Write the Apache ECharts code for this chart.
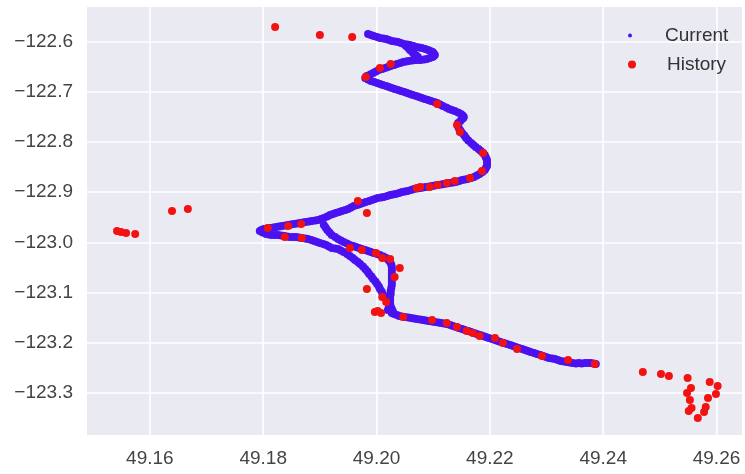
<!DOCTYPE html>
<html>
<head>
<meta charset="utf-8">
<script src="https://cdn.jsdelivr.net/npm/echarts@6/dist/echarts.min.js"></script>
<style>
html,body{margin:0;padding:0;background:#ffffff;}
#chart{width:745px;height:474px;}
</style>
</head>
<body>
<div id="chart"></div>
<script>
// Tick labels
var xTicks = [49.16, 49.18, 49.20, 49.22, 49.24, 49.26];
var yTicks = [-122.6, -122.7, -122.8, -122.9, -123.0, -123.1, -123.2, -123.3];
var seriesNames = ['Current', 'History'];

// "Current" track points [x, y], read along the dense band
var currentPoints = [
  // top strand
  [49.1985,-122.5852],[49.1990,-122.5872],[49.1995,-122.5892],[49.2001,-122.5912],[49.2006,-122.5932],
  [49.2012,-122.5941],[49.2017,-122.5951],[49.2022,-122.5971],[49.2027,-122.5991],[49.2033,-122.6001],
  [49.2038,-122.6011],[49.2043,-122.6031],[49.2048,-122.6051],[49.2054,-122.6061],[49.2059,-122.6071],
  [49.2065,-122.6091],[49.2070,-122.6111],[49.2075,-122.6121],[49.2080,-122.6131],[49.2086,-122.6150],
  [49.2091,-122.6170],[49.2095,-122.6190],[49.2099,-122.6210],[49.2101,-122.6240],[49.2103,-122.6270],
  [49.2101,-122.6290],
  // inner loop
  [49.2052,-122.6091],[49.2056,-122.6131],[49.2059,-122.6170],[49.2063,-122.6210],[49.2066,-122.6250],
  [49.2070,-122.6280],[49.2073,-122.6310],
  // return strand
  [49.2099,-122.6310],[49.2094,-122.6330],[49.2089,-122.6350],[49.2084,-122.6360],[49.2078,-122.6370],
  [49.2073,-122.6370],[49.2068,-122.6370],[49.2063,-122.6380],[49.2057,-122.6389],[49.2052,-122.6399],
  [49.2047,-122.6409],[49.2042,-122.6429],[49.2036,-122.6449],[49.2031,-122.6469],[49.2025,-122.6489],
  [49.2020,-122.6509],[49.2015,-122.6529],[49.2010,-122.6549],[49.2004,-122.6569],[49.1999,-122.6599],
  [49.1994,-122.6628],[49.1989,-122.6658],[49.1983,-122.6688],[49.1982,-122.6708],
  // second descending strand
  [49.1980,-122.6728],[49.1985,-122.6758],[49.1990,-122.6787],[49.1996,-122.6807],[49.2001,-122.6827],
  [49.2006,-122.6847],[49.2011,-122.6867],[49.2017,-122.6887],[49.2022,-122.6907],[49.2027,-122.6927],
  [49.2032,-122.6947],[49.2038,-122.6967],[49.2043,-122.6987],[49.2049,-122.7007],[49.2054,-122.7026],
  [49.2059,-122.7046],[49.2064,-122.7066],[49.2070,-122.7086],[49.2075,-122.7106],[49.2080,-122.7126],
  [49.2085,-122.7146],[49.2091,-122.7166],[49.2096,-122.7186],[49.2102,-122.7206],[49.2107,-122.7225],
  [49.2112,-122.7255],[49.2117,-122.7285],[49.2123,-122.7315],[49.2128,-122.7345],[49.2133,-122.7365],
  [49.2138,-122.7385],[49.2144,-122.7415],[49.2149,-122.7444],[49.2152,-122.7474],[49.2154,-122.7504],
  // jog and right bend
  [49.2153,-122.7524],[49.2151,-122.7544],[49.2148,-122.7584],[49.2144,-122.7623],[49.2144,-122.7673],
  [49.2145,-122.7723],[49.2148,-122.7772],[49.2151,-122.7822],[49.2155,-122.7872],[49.2158,-122.7922],
  [49.2162,-122.7972],[49.2167,-122.8022],[49.2171,-122.8062],[49.2175,-122.8101],[49.2180,-122.8141],
  [49.2184,-122.8181],[49.2188,-122.8221],[49.2191,-122.8260],[49.2193,-122.8310],[49.2195,-122.8360],
  [49.2195,-122.8420],[49.2195,-122.8479],[49.2193,-122.8519],
  // long strand back to the left
  [49.2191,-122.8559],[49.2187,-122.8599],[49.2182,-122.8639],[49.2177,-122.8668],[49.2172,-122.8698],
  [49.2167,-122.8718],[49.2161,-122.8738],[49.2156,-122.8748],[49.2151,-122.8758],[49.2146,-122.8778],
  [49.2140,-122.8798],[49.2135,-122.8808],[49.2129,-122.8818],[49.2124,-122.8828],[49.2119,-122.8838],
  [49.2114,-122.8848],[49.2108,-122.8858],[49.2103,-122.8867],[49.2098,-122.8877],[49.2093,-122.8887],
  [49.2087,-122.8897],[49.2082,-122.8907],[49.2077,-122.8917],[49.2072,-122.8927],[49.2066,-122.8937],
  [49.2061,-122.8957],[49.2055,-122.8977],[49.2050,-122.8987],[49.2045,-122.8997],[49.2040,-122.9017],
  [49.2034,-122.9037],[49.2029,-122.9047],[49.2024,-122.9057],[49.2019,-122.9076],[49.2013,-122.9096],
  [49.2008,-122.9106],[49.2002,-122.9116],[49.1997,-122.9136],[49.1992,-122.9156],[49.1987,-122.9176],
  [49.1981,-122.9196],[49.1976,-122.9216],[49.1971,-122.9236],[49.1966,-122.9255],[49.1960,-122.9275],
  [49.1955,-122.9305],[49.1950,-122.9335],[49.1945,-122.9355],[49.1939,-122.9375],[49.1934,-122.9395],
  [49.1928,-122.9415],[49.1923,-122.9435],[49.1918,-122.9455],[49.1913,-122.9485],[49.1907,-122.9514],
  [49.1902,-122.9534],[49.1897,-122.9554],[49.1892,-122.9564],[49.1886,-122.9574],[49.1881,-122.9584],
  [49.1875,-122.9594],[49.1870,-122.9604],[49.1865,-122.9614],[49.1860,-122.9624],[49.1854,-122.9634],
  [49.1849,-122.9644],[49.1844,-122.9654],[49.1839,-122.9664],[49.1833,-122.9674],[49.1828,-122.9683],
  [49.1823,-122.9693],[49.1818,-122.9703],[49.1812,-122.9713],[49.1807,-122.9723],[49.1801,-122.9733],
  [49.1797,-122.9753],[49.1794,-122.9773],
  // lower outer curve
  [49.1799,-122.9803],[49.1805,-122.9833],[49.1810,-122.9843],[49.1815,-122.9853],[49.1821,-122.9853],
  [49.1826,-122.9853],[49.1832,-122.9863],[49.1837,-122.9873],[49.1842,-122.9883],[49.1847,-122.9893],
  [49.1853,-122.9893],[49.1858,-122.9893],[49.1863,-122.9903],[49.1868,-122.9912],[49.1874,-122.9922],
  [49.1879,-122.9932],[49.1885,-122.9952],[49.1890,-122.9972],[49.1895,-122.9992],[49.1900,-123.0012],
  [49.1906,-123.0032],[49.1911,-123.0052],[49.1916,-123.0082],[49.1921,-123.0111],[49.1927,-123.0121],
  [49.1932,-123.0131],[49.1937,-123.0161],[49.1942,-123.0191],[49.1948,-123.0231],[49.1953,-123.0271],
  [49.1958,-123.0311],[49.1962,-123.0350],[49.1967,-123.0390],[49.1971,-123.0430],[49.1976,-123.0480],
  [49.1980,-123.0529],[49.1984,-123.0579],[49.1987,-123.0629],[49.1991,-123.0678],[49.1994,-123.0728],
  [49.1998,-123.0778],[49.2001,-123.0828],[49.2004,-123.0878],[49.2006,-123.0928],[49.2009,-123.0977],
  [49.2011,-123.1027],[49.2014,-123.1077],[49.2017,-123.1127],[49.2020,-123.1176],[49.2022,-123.1226],
  [49.2025,-123.1276],[49.2027,-123.1326],
  // inner branch
  [49.1907,-122.9654],[49.1910,-122.9704],[49.1913,-122.9753],[49.1917,-122.9803],[49.1921,-122.9853],
  [49.1927,-122.9893],[49.1932,-122.9932],[49.1937,-122.9962],[49.1942,-122.9992],[49.1948,-123.0022],
  [49.1953,-123.0052],[49.1959,-123.0072],[49.1964,-123.0092],[49.1969,-123.0111],[49.1974,-123.0131],
  [49.1980,-123.0151],[49.1985,-123.0171],[49.1990,-123.0191],[49.1995,-123.0211],[49.2001,-123.0231],
  [49.2006,-123.0251],[49.2012,-123.0281],[49.2017,-123.0311],[49.2021,-123.0350],[49.2024,-123.0390],
  [49.2026,-123.0440],[49.2027,-123.0490],[49.2027,-123.0549],[49.2027,-123.0609],[49.2027,-123.0668],
  [49.2027,-123.0728],[49.2027,-123.0788],[49.2027,-123.0848],[49.2026,-123.0907],[49.2025,-123.0967],
  [49.2025,-123.1027],[49.2024,-123.1087],[49.2024,-123.1146],[49.2024,-123.1206],[49.2022,-123.1276],
  [49.2020,-123.1345],[49.2027,-123.1405],
  // south-east tail
  [49.2029,-123.1375],[49.2031,-123.1425],[49.2036,-123.1445],[49.2040,-123.1465],[49.2045,-123.1475],
  [49.2050,-123.1485],[49.2056,-123.1495],[49.2061,-123.1505],[49.2066,-123.1515],[49.2071,-123.1525],
  [49.2077,-123.1535],[49.2082,-123.1545],[49.2087,-123.1554],[49.2092,-123.1564],[49.2098,-123.1574],
  [49.2103,-123.1584],[49.2109,-123.1594],[49.2114,-123.1604],[49.2119,-123.1614],[49.2124,-123.1624],
  [49.2130,-123.1644],[49.2135,-123.1664],[49.2140,-123.1684],[49.2145,-123.1704],[49.2151,-123.1724],
  [49.2156,-123.1744],[49.2162,-123.1764],[49.2167,-123.1783],[49.2172,-123.1803],[49.2177,-123.1823],
  [49.2183,-123.1843],[49.2188,-123.1863],[49.2193,-123.1883],[49.2198,-123.1903],[49.2204,-123.1923],
  [49.2209,-123.1943],[49.2214,-123.1962],[49.2219,-123.1982],[49.2225,-123.2002],[49.2230,-123.2022],
  [49.2236,-123.2042],[49.2241,-123.2062],[49.2246,-123.2082],[49.2251,-123.2102],[49.2257,-123.2122],
  [49.2262,-123.2142],[49.2267,-123.2161],[49.2272,-123.2181],[49.2278,-123.2201],[49.2283,-123.2221],
  [49.2289,-123.2241],[49.2294,-123.2261],[49.2299,-123.2281],[49.2304,-123.2301],[49.2310,-123.2311],
  [49.2315,-123.2321],[49.2320,-123.2341],[49.2325,-123.2361],[49.2331,-123.2370],[49.2336,-123.2380],
  [49.2341,-123.2390],[49.2346,-123.2400],[49.2352,-123.2410],[49.2357,-123.2400],[49.2362,-123.2410],
  [49.2368,-123.2400],[49.2373,-123.2400],[49.2378,-123.2400],[49.2383,-123.2410],[49.2387,-123.2420]
];

// "History" points [x, y]
var historyPoints = [
  [49.1821,-122.5713],[49.1900,-122.5872],[49.1957,-122.5912],[49.1981,-122.6708],[49.2006,-122.6529],
  [49.2025,-122.6449],[49.2107,-122.7245],[49.2142,-122.7663],[49.2147,-122.7803],[49.2188,-122.8221],
  [49.2186,-122.8579],[49.2165,-122.8718],[49.2138,-122.8778],[49.2124,-122.8818],[49.2108,-122.8858],
  [49.2094,-122.8897],[49.2077,-122.8897],[49.2071,-122.8917],[49.1967,-122.9176],[49.1983,-122.9415],
  [49.1639,-122.9375],[49.1667,-122.9335],[49.1542,-122.9773],[49.1549,-122.9793],[49.1558,-122.9813],
  [49.1574,-122.9833],[49.1808,-122.9713],[49.1844,-122.9674],[49.1867,-122.9634],[49.1838,-122.9893],
  [49.1868,-122.9912],[49.1953,-123.0111],[49.1974,-123.0151],[49.1999,-123.0211],[49.2010,-123.0311],
  [49.2024,-123.0330],[49.2041,-123.0510],[49.2032,-123.0689],[49.1983,-123.0928],[49.2010,-123.1087],
  [49.2017,-123.1186],[49.1997,-123.1385],[49.2008,-123.1405],[49.2002,-123.1365],[49.2047,-123.1485],
  [49.2098,-123.1545],[49.2124,-123.1604],[49.2142,-123.1684],[49.2159,-123.1764],[49.2170,-123.1803],
  [49.2182,-123.1863],[49.2209,-123.1903],[49.2223,-123.2002],[49.2248,-123.2122],[49.2292,-123.2261],
  [49.2338,-123.2341],[49.2385,-123.2420],[49.2470,-123.2580],[49.2502,-123.2619],[49.2516,-123.2659],
  [49.2549,-123.2699],[49.2555,-123.2898],[49.2548,-123.2998],[49.2553,-123.3137],[49.2556,-123.3296],
  [49.2551,-123.3356],[49.2567,-123.3495],[49.2578,-123.3376],[49.2581,-123.3276],[49.2585,-123.3097],
  [49.2599,-123.3017],[49.2602,-123.2858],[49.2588,-123.2779]
];

var FONT = '"Liberation Sans", Arial, sans-serif';
var chart = echarts.init(document.getElementById('chart'), null, {renderer: 'canvas'});

function fmtY(v) {
  var s = Math.abs(v).toFixed(1);
  return (v < 0 ? '\u2212' : '') + s;
}

var option = {
  animation: false,
  backgroundColor: '#ffffff',
  grid: {
    left: 87, right: 3, top: 7, bottom: 39,
    show: true, backgroundColor: '#EAEAF2', borderWidth: 0
  },
  legend: [
    {
      data: [seriesNames[0]], left: 628, top: 26, orient: 'vertical', padding: 0,
      itemWidth: 60, itemHeight: 4, selectedMode: false,
      textStyle: {fontFamily: FONT, fontSize: 19, color: '#333333'}
    },
    {
      data: [seriesNames[1]], left: 628, top: 55, orient: 'vertical', padding: 0,
      itemWidth: 60, itemHeight: 8, selectedMode: false,
      textStyle: {fontFamily: FONT, fontSize: 19, color: '#333333'}
    }
  ],
  xAxis: {
    type: 'value',
    min: 49.1489, max: 49.2645,
    axisLine: {show: false},
    axisTick: {show: false, customValues: xTicks},
    axisLabel: {
      customValues: xTicks, margin: 14,
      fontFamily: FONT, fontSize: 19, color: '#444444',
      formatter: function (v) { return Number(v).toFixed(2); }
    },
    splitLine: {show: true, lineStyle: {color: '#ffffff', width: 1.6}}
  },
  yAxis: {
    type: 'value',
    min: -123.3834, max: -122.5315,
    axisLine: {show: false},
    axisTick: {show: false, customValues: yTicks},
    axisLabel: {
      customValues: yTicks, margin: 14,
      fontFamily: FONT, fontSize: 19, color: '#444444',
      formatter: function (v) { return fmtY(Number(v)); }
    },
    splitLine: {show: true, lineStyle: {color: '#ffffff', width: 1.6}}
  },
  series: [
    {
      name: seriesNames[0], type: 'scatter', data: currentPoints,
      symbol: 'circle', symbolSize: 8,
      itemStyle: {color: '#4a12f0', opacity: 1},
      emphasis: {disabled: true}, z: 2, large: false
    },
    {
      name: seriesNames[1], type: 'scatter', data: historyPoints,
      symbol: 'circle', symbolSize: 8,
      itemStyle: {color: '#f21212', opacity: 1},
      emphasis: {disabled: true}, z: 3
    }
  ]
};
chart.setOption(option);
</script>
</body>
</html>
